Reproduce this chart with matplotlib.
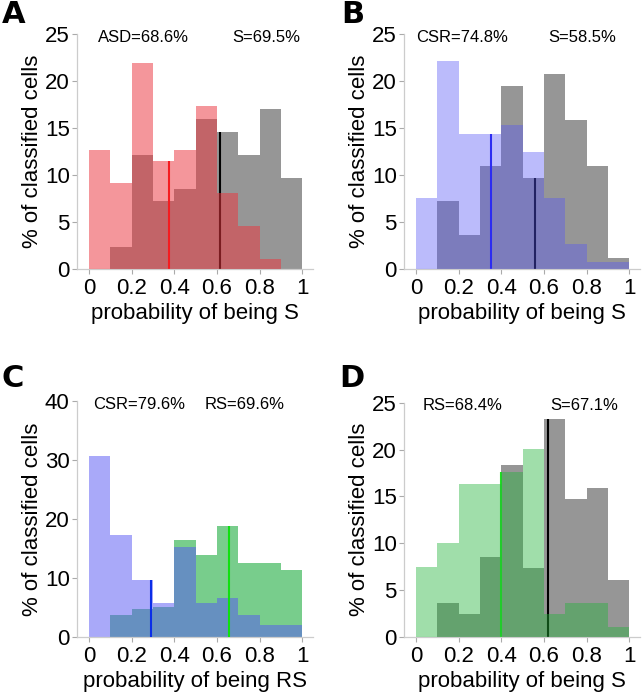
import numpy as np
import matplotlib
matplotlib.use("Agg")
import matplotlib.pyplot as plt

plt.rcParams['font.family'] = ['Liberation Sans', 'DejaVu Sans']

bin_edges = [0.0, 0.1, 0.2, 0.3, 0.4, 0.5, 0.6, 0.7, 0.8, 0.9, 1.0]

# Panel A: probability of being S
a_asd = [12.7, 9.2, 22.0, 11.56, 12.7, 17.4, 8.1, 4.6, 1.13, 0.0]
a_s = [0.0, 2.4, 12.2, 7.3, 8.5, 16.0, 14.6, 12.2, 17.1, 9.75]
a_mean_asd, a_mean_s = 0.375, 0.614

# Panel B: probability of being S
b_csr = [7.55, 22.2, 14.4, 14.4, 15.4, 12.45, 7.55, 2.73, 0.78, 0.78]
b_s = [0.0, 7.3, 3.6, 11.0, 19.5, 9.75, 20.8, 15.9, 11.0, 1.17]
b_mean_csr, b_mean_s = 0.352, 0.556

# Panel C: probability of being RS
c_csr = [30.8, 17.3, 9.63, 5.67, 15.3, 5.67, 6.63, 3.74, 1.93, 1.93]
c_rs = [0.0, 3.74, 4.65, 5.1, 16.4, 13.9, 18.9, 12.6, 12.6, 11.3]
c_mean_csr, c_mean_rs = 0.29, 0.654

# Panel D: probability of being S
d_rs = [7.4, 10.0, 16.3, 16.3, 17.6, 20.1, 2.42, 3.56, 3.56, 1.07]
d_s = [0.0, 3.63, 2.42, 8.55, 18.3, 7.3, 23.3, 14.7, 15.9, 6.1]
d_mean_rs, d_mean_s = 0.40, 0.619

labels = ['A', 'B', 'C', 'D']
annot = [('ASD=68.6%', 'S=69.5%'), ('CSR=74.8%', 'S=58.5%'),
         ('CSR=79.6%', 'RS=69.6%'), ('RS=68.4%', 'S=67.1%')]
xlabels = ['probability of being S', 'probability of being S',
           'probability of being RS', 'probability of being S']

W, H = 642, 692
fig = plt.figure(figsize=(W / 100, H / 100), dpi=100)

def px_axes(left, bottom, width, height):
    return fig.add_axes([left / W, 1 - bottom / H, width / W, height / H])

axA = px_axes(77.3, 269.3, 235.7, 235)
axB = px_axes(404.3, 269.3, 235.7, 235)
axC = px_axes(77.3, 636.7, 235.7, 235.3)
axD = px_axes(404.3, 636.7, 235.7, 234)

left_edges = np.array(bin_edges[:-1])
gray = '#969696'

def bars(ax, vals, color, alpha=1.0, z=1):
    ax.bar(left_edges, vals, width=0.1, align='edge', color=color,
           alpha=alpha, linewidth=0, edgecolor='none', zorder=z)

def height_at(vals, x):
    i = min(int(np.searchsorted(bin_edges, x, side='right')) - 1, 9)
    return vals[i]

# A
bars(axA, a_s, gray, z=1)
axA.vlines(a_mean_s, 0, height_at(a_s, a_mean_s), color='black', lw=1.5, zorder=2)
axA.vlines(a_mean_asd, 0, height_at(a_asd, a_mean_asd), color='#ff0000', lw=1.5, zorder=2)
bars(axA, a_asd, (235/255, 54/255, 63/255), alpha=0.52, z=3)

# B
bars(axB, b_s, gray, z=1)
axB.vlines(b_mean_s, 0, height_at(b_s, b_mean_s), color='black', lw=1.5, zorder=2)
axB.vlines(b_mean_csr, 0, height_at(b_csr, b_mean_csr), color='#1010ee', lw=1.5, zorder=2)
bars(axB, b_csr, (87/255, 87/255, 247/255), alpha=0.4, z=3)

# C
bars(axC, c_rs, '#78cd8c', z=1)
bars(axC, c_csr, (85/255, 85/255, 245/255), alpha=0.5, z=2)
axC.vlines(c_mean_csr, 0, height_at(c_csr, c_mean_csr), color='#0a2ee8', lw=1.5, zorder=3)
axC.vlines(c_mean_rs, 0, height_at(c_rs, c_mean_rs), color='#10e010', lw=1.5, zorder=3)

# D
bars(axD, d_s, gray, z=1)
axD.vlines(d_mean_s, 0, height_at(d_s, d_mean_s), color='black', lw=1.5, zorder=2)
axD.vlines(d_mean_rs, 0, height_at(d_rs, d_mean_rs), color='#20e020', lw=1.5, zorder=2)
bars(axD, d_rs, (35/255, 179/255, 58/255), alpha=0.43, z=3)

axes = [axA, axB, axC, axD]
ymax = [25, 25, 40, 25]
yticks = [[0, 5, 10, 15, 20, 25]] * 2 + [[0, 10, 20, 30, 40]] + [[0, 5, 10, 15, 20, 25]]
text_x = [(0.04, 0.67), (0.0, 0.62), (0.02, 0.54), (0.03, 0.63)]
letter_pos = [(0.003, 0.967), (0.531, 0.967), (0.003, 0.441), (0.528, 0.441)]

for i, ax in enumerate(axes):
    ax.set_xlim(-0.055, 1.05)
    ax.set_ylim(0, ymax[i])
    ax.set_yticks(yticks[i])
    ax.set_xticks([0, 0.2, 0.4, 0.6, 0.8, 1.0])
    ax.set_xticklabels(['0', '0.2', '0.4', '0.6', '0.8', '1'])
    for s in ['top', 'right']:
        ax.spines[s].set_visible(False)
    for s in ['left', 'bottom']:
        ax.spines[s].set_color('#cccccc')
        ax.spines[s].set_linewidth(0.9)
    ax.tick_params(axis='both', direction='out', length=3.5, width=0.8,
                   color='#aaaaaa', labelsize=16, labelcolor='black')
    ax.tick_params(axis='y', pad=2)
    ax.tick_params(axis='x', pad=3)
    ax.set_ylabel('% of classified cells', fontsize=16, labelpad=1)
    ax.set_xlabel(xlabels[i], fontsize=16, labelpad=3)
    t1, t2 = annot[i]
    ax.text(text_x[i][0], 0.967, t1, transform=ax.get_xaxis_transform(),
            fontsize=12, ha='left', va='baseline')
    ax.text(text_x[i][1], 0.967, t2, transform=ax.get_xaxis_transform(),
            fontsize=12, ha='left', va='baseline')
    fig.text(letter_pos[i][0], letter_pos[i][1], labels[i], fontsize=22,
             fontweight='bold', family=['Liberation Sans Narrow', 'DejaVu Sans'],
             ha='left', va='baseline')

fig.savefig('out.png', dpi=100)
